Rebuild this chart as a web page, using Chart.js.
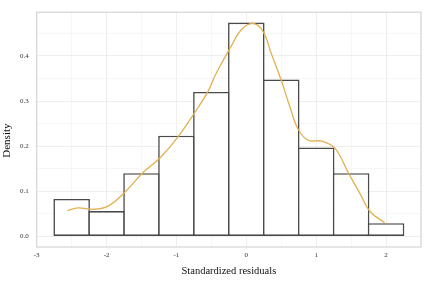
<!DOCTYPE html>
<html>
<head>
<meta charset="utf-8">
<script src="https://cdn.jsdelivr.net/npm/chart.js@4"></script>
<style>
  html, body { margin: 0; padding: 0; background: #fff; }
  #wrap { width: 431px; height: 282px; }
</style>
</head>
<body>
<div id="wrap"><canvas id="chart"></canvas></div>
<script>
// 히스토그램 (bin 중심, 밀도)
const binCenters = [-2.5, -2, -1.5, -1, -0.5, 0, 0.5, 1, 1.5, 2];
const binDensity = [0.083, 0.056, 0.14, 0.223, 0.32, 0.474, 0.348, 0.197, 0.14, 0.029];
// 밀도 곡선
const curveX = [-2.56, -2.41, -2.18, -1.98, -1.75, -1.48, -1.24, -0.98, -0.74, -0.55, -0.455, -0.36, -0.24, -0.07, 0.096, 0.24, 0.36, 0.5, 0.62, 0.74, 0.885, 1.076, 1.27, 1.46, 1.63, 1.77, 1.98];
const curveY = [0.057, 0.063, 0.06, 0.067, 0.096, 0.141, 0.173, 0.22, 0.274, 0.321, 0.354, 0.382, 0.415, 0.458, 0.472, 0.454, 0.404, 0.346, 0.289, 0.238, 0.213, 0.211, 0.195, 0.141, 0.094, 0.055, 0.03];
const xTicks = [-3, -2, -1, 0, 1, 2];
const yTicks = [0, 0.1, 0.2, 0.3, 0.4];

const grey = "#4a4a4a";
const gold = "#E2B04E";
const serif = "'Liberation Serif', 'DejaVu Serif', serif";
const barBorder = 1.6;

// 패널 테두리
const panelBorder = {
  id: "panelBorder",
  afterDraw(chart) {
    const a = chart.chartArea;
    const ctx = chart.ctx;
    ctx.save();
    ctx.strokeStyle = "#d4d4d4";
    ctx.lineWidth = 1.2;
    ctx.strokeRect(a.left, a.top, a.right - a.left, a.bottom - a.top);
    ctx.restore();
  },
};

function minorTicks(list, step) {
  const out = [];
  for (let k = 0; k < list.length; k++) {
    out.push({ value: list[k] });
    out.push({ value: list[k] + step });
  }
  return out;
}

const isMajor = (v, list) => list.some((t) => Math.abs(t - v) < 1e-9);
const gridColor = (list) => (c) =>
  c.tick && isMajor(c.tick.value, list) ? "#ebebeb" : "#f4f4f4";

new Chart(document.getElementById("chart"), {
  type: "bar",
  data: {
    datasets: [
      {
        type: "line",
        data: curveX.map((x, k) => ({ x: x, y: curveY[k] })),
        borderColor: gold,
        borderWidth: 1.3,
        pointRadius: 0,
        tension: 0.4,
        fill: false,
        order: 0,
      },
      {
        type: "bar",
        data: binCenters.map((x, k) => ({ x: x, y: binDensity[k] })),
        backgroundColor: "#ffffff",
        borderColor: grey,
        borderWidth: barBorder,
        borderSkipped: false,
        inflateAmount: 0,
        // 이웃 막대의 테두리가 한 줄로 겹치도록 살짝 넓힘
        barPercentage: 1.046,
        categoryPercentage: 1,
        grouped: false,
        order: 1,
      },
    ],
  },
  options: {
    responsive: true,
    maintainAspectRatio: false,
    animation: false,
    layout: { padding: { top: 7, right: 10, left: 0, bottom: 0 } },
    plugins: { legend: { display: false }, tooltip: { enabled: false } },
    scales: {
      x: {
        type: "linear",
        offset: false,
        min: -3,
        max: 2.5,
        afterBuildTicks: (s) => { s.ticks = minorTicks(xTicks, 0.5).filter((t) => t.value <= 2.5); },
        afterFit: (s) => { s.height = 35; },
        grid: { drawTicks: false, offset: false, color: gridColor(xTicks), lineWidth: 0.8 },
        border: { display: false },
        ticks: {
          padding: 4,
          autoSkip: false,
          maxRotation: 0,
          font: { family: serif, size: 7 },
          color: "#333",
          callback: (v) => (isMajor(v, xTicks) ? String(v) : ""),
        },
        title: {
          display: true,
          text: "Standardized residuals",
          font: { family: serif, size: 10.5 },
          color: "#111",
          padding: { top: 0, bottom: 4 },
        },
      },
      y: {
        type: "linear",
        min: -0.0237,
        max: 0.497,
        afterBuildTicks: (s) => { s.ticks = minorTicks(yTicks, 0.05); },
        afterFit: (s) => { s.width = 36.7; },
        grid: { drawTicks: false, color: gridColor(yTicks), lineWidth: 0.8 },
        border: { display: false },
        ticks: {
          padding: 8,
          autoSkip: false,
          font: { family: serif, size: 7 },
          color: "#333",
          callback: (v) => (isMajor(v, yTicks) ? v.toFixed(1) : ""),
        },
        title: {
          display: true,
          // 원본처럼 제목을 조금 아래로
          text: "Density        ",
          font: { family: serif, size: 11 },
          color: "#111",
          padding: { top: 1, bottom: 0 },
        },
      },
    },
  },
  plugins: [panelBorder],
});
</script>
</body>
</html>
